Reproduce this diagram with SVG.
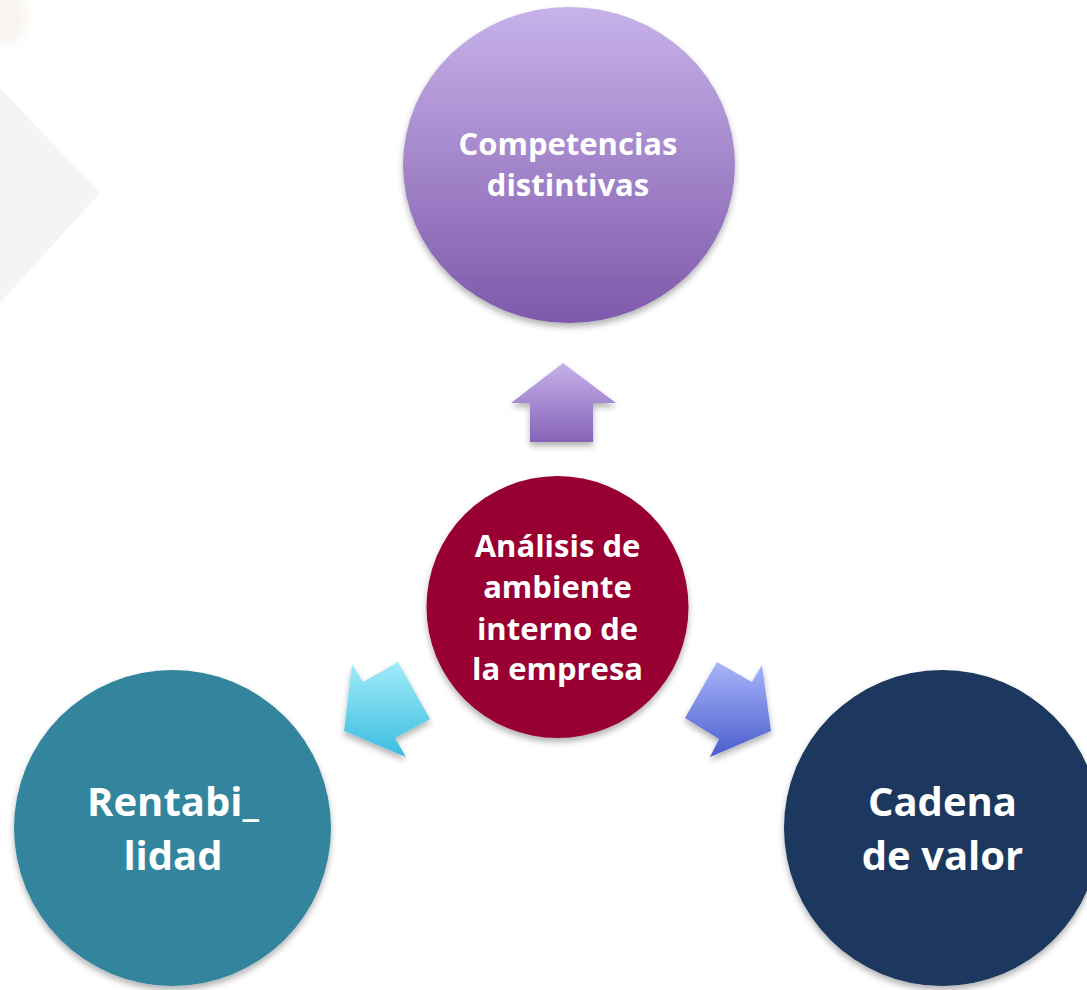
<svg xmlns="http://www.w3.org/2000/svg" width="1087" height="990" viewBox="0 0 1087 990">
  <style>
    .lbl { font-family: "Open Sans", "Liberation Sans", sans-serif; font-weight: bold; fill: #ffffff; text-anchor: middle; }
    .s31 { font-size: 31px; }
    .s40 { font-size: 40px; }
  </style>
  <defs>
    <filter id="sh" x="-20%" y="-20%" width="140%" height="140%">
      <feDropShadow dx="0" dy="4" stdDeviation="3" flood-color="#000000" flood-opacity="0.3"/>
    </filter>
    <filter id="soft" x="-20%" y="-20%" width="140%" height="140%">
      <feGaussianBlur stdDeviation="6"/>
    </filter>
    <linearGradient id="gTop" x1="0" y1="0" x2="0" y2="1">
      <stop offset="0" stop-color="#c7b2ea"/>
      <stop offset="1" stop-color="#7e59aa"/>
    </linearGradient>
    <linearGradient id="gUp" x1="0" y1="0" x2="0" y2="1">
      <stop offset="0" stop-color="#c6b1ea"/>
      <stop offset="1" stop-color="#8663b7"/>
    </linearGradient>
    <linearGradient id="gLeft" x1="0" y1="0" x2="0" y2="1">
      <stop offset="0" stop-color="#a0ecfa"/>
      <stop offset="1" stop-color="#3bbcdf"/>
    </linearGradient>
    <linearGradient id="gRight" x1="0" y1="0" x2="0" y2="1">
      <stop offset="0" stop-color="#a8b6fb"/>
      <stop offset="1" stop-color="#4b5dcb"/>
    </linearGradient>
  </defs>

  <rect x="0" y="0" width="1087" height="990" fill="#ffffff"/>

  <!-- faint background picture -->
  <g id="background">
    <polygon points="0,88 100,193 0,303" fill="#ececec" opacity="0.6"/>
    <ellipse cx="8" cy="18" rx="18" ry="26" fill="#f1e9df" opacity="0.5" filter="url(#soft)"/>
  </g>

  <g id="connectors">
    <polygon id="arrow-up" points="563,363 616,403 593,403 593,442 530,442 530,403 511,403" fill="url(#gUp)" filter="url(#sh)"/>
    <polygon id="arrow-left" points="344,731 352,664 363,682 398,662 430,719 395,738 406,757" fill="url(#gLeft)" filter="url(#sh)"/>
    <polygon id="arrow-right" points="771,731 762,665 752,682 717,662 685,718 719,739 710,757" fill="url(#gRight)" filter="url(#sh)"/>
  </g>

  <g id="node-competencias">
    <ellipse cx="569" cy="165" rx="166" ry="158" fill="url(#gTop)" filter="url(#sh)"/>
    <text class="lbl s31" x="568" y="155">Competencias</text>
    <text class="lbl s31" x="568" y="196">distintivas</text>
  </g>

  <g id="node-analisis">
    <circle cx="557.5" cy="607" r="131" fill="#990033" filter="url(#sh)"/>
    <text class="lbl s31" x="557.5" y="557">Análisis de</text>
    <text class="lbl s31" x="557.5" y="598">ambiente</text>
    <text class="lbl s31" x="557.5" y="640">interno de</text>
    <text class="lbl s31" x="557.5" y="680">la empresa</text>
  </g>

  <g id="node-rentabilidad">
    <ellipse cx="172.5" cy="828" rx="158.5" ry="158" fill="#31859c" filter="url(#sh)"/>
    <text class="lbl s40" x="173" y="816">Rentabi_</text>
    <text class="lbl s40" x="173" y="870">lidad</text>
  </g>

  <g id="node-cadena">
    <ellipse cx="942" cy="828" rx="158" ry="158" fill="#1a375e" filter="url(#sh)"/>
    <text class="lbl s40" x="942.5" y="816">Cadena</text>
    <text class="lbl s40" x="942.5" y="870">de valor</text>
  </g>
</svg>
